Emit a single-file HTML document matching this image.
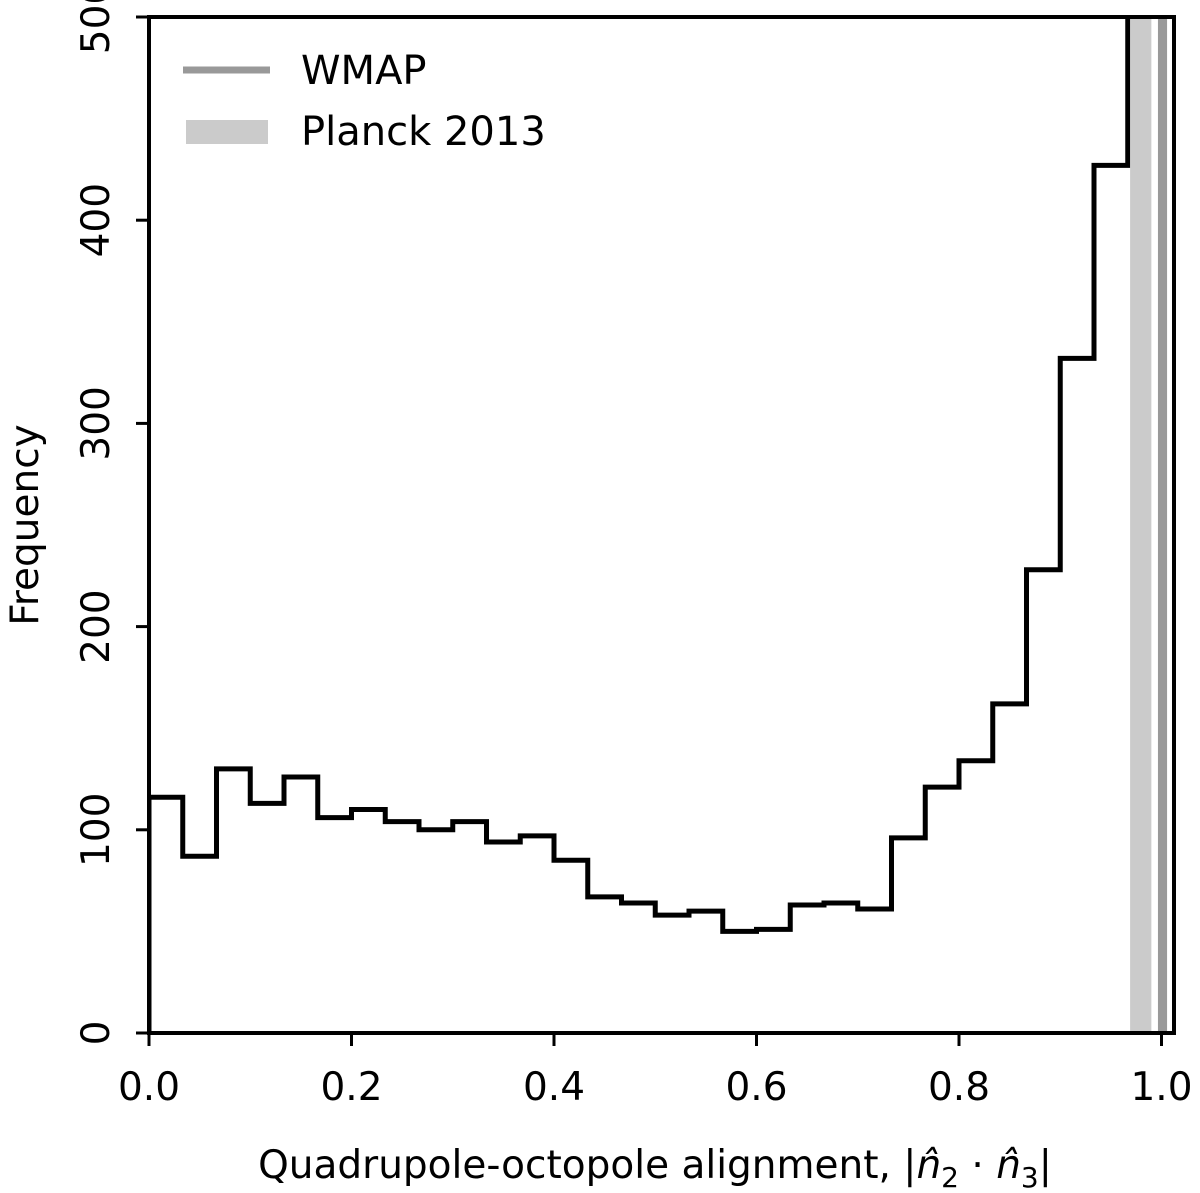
<!DOCTYPE html>
<html><head><meta charset="utf-8"><style>
body{margin:0;background:#fff}
text{font-family:"DejaVu Sans","Liberation Sans",sans-serif;fill:#000}
</style></head><body>
<svg id="chart" width="1200" height="1188" xmlns="http://www.w3.org/2000/svg">
<defs><clipPath id="clip"><rect x="149" y="17" width="1025" height="1016"/></clipPath></defs>
<g id="plot" clip-path="url(#clip)"></g>
<g id="axes"></g>
</svg>
<script>
const binCounts=[116,87,130,113,126,106,110,104,100,104,94,97,85,67,64,58,60,50,51,63,64,61,96,121,134,162,228,332,427,700];
const xTicks=[0,0.2,0.4,0.6,0.8,1.0];
const xTickLabels=["0.0","0.2","0.4","0.6","0.8","1.0"];
const yTicks=[0,100,200,300,400,500];
const planckRange=[0.969,0.990];
const wmapRange=[0.9965,1.0055];
const L=149,R=1174,T=17,B=1033;
const X=v=>149+v*1012.5;
const Y=v=>B-(v/500)*(B-T);
const NS="http://www.w3.org/2000/svg";
const plot=document.getElementById('plot'),axes=document.getElementById('axes');
function mk(tag,attrs,parent){const e=document.createElementNS(NS,tag);for(const k in attrs)e.setAttribute(k,attrs[k]);parent.appendChild(e);return e;}
const n=binCounts.length;let d=`M${X(0)},${Y(0)}`;
binCounts.forEach((c,i)=>{d+=` L${X(i/n)},${Y(c)} L${X((i+1)/n)},${Y(c)}`;});
d+=` L${X(1)},${Y(0)}`;
const h=mk('path',{d:d,fill:'none',stroke:'#000','stroke-width':5,'stroke-linejoin':'miter'},plot);


const pb=mk('rect',{x:X(planckRange[0]),y:T,width:X(planckRange[1])-X(planckRange[0]),height:B-T,fill:'#cbcbcb'},plot);


const wb=mk('rect',{x:X(wmapRange[0]),y:T,width:X(wmapRange[1])-X(wmapRange[0]),height:B-T,fill:'#999'},plot);


const fr=mk('rect',{x:L,y:T,width:R-L,height:B-T,fill:'none',stroke:'#000','stroke-width':4},axes);


xTicks.forEach((v,i)=>{
 const t=mk('line',{x1:X(v),x2:X(v),y1:B,y2:B+13,stroke:'#000','stroke-width':3},axes);
 
 
 const tx=mk('text',{x:X(v),y:1100,'font-size':39,'text-anchor':'middle'},axes);tx.textContent=xTickLabels[i];
 
 
});
yTicks.forEach(v=>{
 const t=mk('line',{x1:L-13,x2:L,y1:Y(v),y2:Y(v),stroke:'#000','stroke-width':3},axes);
 
 
 const tx=mk('text',{x:0,y:0,'font-size':39,'text-anchor':'middle',transform:`translate(109,${Y(v)}) rotate(-90)`},axes);tx.textContent=v;
 
 
});
const xl=mk('text',{x:655,y:1178,'font-size':39,'text-anchor':'middle'},axes);
xl.innerHTML='Quadrupole-octopole alignment, |<tspan font-style="italic">n̂</tspan><tspan font-size="28" dy="9">2</tspan><tspan dy="-9"> · </tspan><tspan font-style="italic">n̂</tspan><tspan font-size="28" dy="9">3</tspan><tspan dy="-9">|</tspan>';


const yl=mk('text',{x:0,y:0,'font-size':39,'text-anchor':'middle',transform:'translate(38,525) rotate(-90)'},axes);yl.textContent='Frequency';


const l1=mk('line',{x1:183,x2:270,y1:70,y2:70,stroke:'#999','stroke-width':7},axes);


const t1=mk('text',{x:301,y:84,'font-size':40},axes);t1.textContent='WMAP';


const l2=mk('rect',{x:186,y:120,width:82,height:24,fill:'#cbcbcb'},axes);


const t2=mk('text',{x:301,y:145,'font-size':40},axes);t2.textContent='Planck 2013';


</script>
</body></html>
